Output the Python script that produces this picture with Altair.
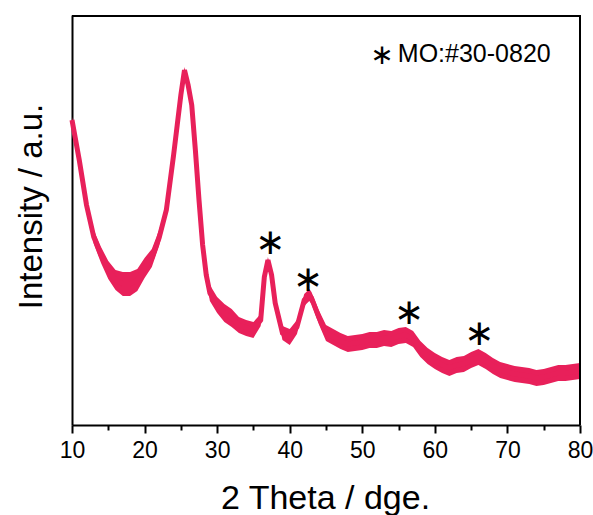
import altair as alt
import pandas as pd

# 2-theta positions (deg) and intensity (a.u.)
two_theta = [10, 11, 12, 13, 14, 15, 16, 17, 18, 19, 20, 21, 22, 23, 24, 24.5, 25, 25.5,
             26, 26.5, 27, 27.5, 28, 28.5, 29, 30, 31, 32, 33, 34, 35, 36, 36.5, 37,
             37.5, 38, 39, 40, 41, 42, 42.7, 43, 44, 45, 46, 47, 48, 49, 50, 51, 52,
             53, 54, 55, 56, 57, 58, 59, 60, 61, 62, 63, 64, 65, 66, 67, 68, 69, 70,
             71, 72, 73, 74, 75, 76, 77, 78, 79, 80]
intensity = [305, 265, 220, 188, 170, 155, 145, 141, 141, 145, 157, 167, 187, 215, 270, 300, 330, 355,
             340, 320, 275, 225, 180, 150, 132, 120, 112, 107, 100, 97, 95, 105, 148, 165,
             150, 122, 92, 88, 98, 125, 130, 127, 108, 92, 88, 84, 81, 82, 83, 85, 85,
             87, 86, 89, 90, 86, 76, 69, 64, 60, 57, 60, 61, 65, 68, 64, 59, 55, 53,
             51, 50, 49, 47, 48, 50, 52, 52, 53, 54]
# half-width of the noise band around the trace (a.u.)
noise = [3, 4, 5, 7, 8, 9, 10, 12, 12, 11, 10, 9, 8, 6, 4, 3, 3, 3,
         3, 3, 3, 3, 4, 6, 8, 8, 9, 9, 8, 8, 8, 6, 3, 3,
         3, 4, 7, 8, 7, 6, 6, 6, 7, 8, 8, 8, 8, 8, 8, 8, 8,
         8, 8, 8, 8, 8, 8, 8, 8, 8, 8, 8, 8, 8, 8, 8, 8, 8, 8,
         8, 8, 8, 8, 8, 8, 8, 8, 8, 8]

# peak markers
star_x = [37.3, 42.5, 56.4, 66.1]
star_y = [182, 145, 112, 91]

major_ticks = [10, 20, 30, 40, 50, 60, 70, 80]
minor_ticks = [15, 25, 35, 45, 55, 65, 75]
x_range = [10, 80]
y_range = [0, 410]

legend_label = ["MO:#30-0820"]

COLOR = "#E8205A"
FONT = "Liberation Sans"

df = pd.DataFrame({"x": two_theta, "y": intensity, "n": noise})
df["lo"] = df["y"] - df["n"]
df["hi"] = df["y"] + df["n"]
stars = pd.DataFrame({"x": star_x, "y": star_y})
leg = pd.DataFrame({"x": [54.9], "y": [363], "t": legend_label})
leg_star = pd.DataFrame({"x": [52.7], "y": [369]})

xscale = alt.Scale(domain=x_range, nice=False, zero=False)
yscale = alt.Scale(domain=y_range, nice=False, zero=False)

xaxis = alt.Axis(
    values=major_ticks, orient="bottom",
    tickSize=8, tickWidth=2, tickColor="black", domainColor="black", domainWidth=2,
    labelFont=FONT, labelFontSize=23, labelColor="black", labelPadding=6,
    labelFlush=False, labelOverlap=False,
    title="2 Theta / dge.", titleFont=FONT, titleFontSize=34, titleFontWeight="normal",
    titleColor="black", titleBaseline="alphabetic", titleY=83, titleX=253,
    grid=False,
)
xaxis_minor = alt.Axis(
    values=minor_ticks, orient="bottom", labels=False, domain=False, grid=False,
    tickSize=5, tickWidth=2, tickColor="black", title=None,
)
yaxis = alt.Axis(
    orient="left", labels=False, ticks=False, domainColor="black", domainWidth=2, grid=False,
    title="Intensity / a.u.", titleFont=FONT, titleFontSize=33, titleFontWeight="normal",
    titleColor="black", titleAngle=-90, titleBaseline="alphabetic", titleAlign="center",
    titleX=-31, titleY=191,
)

X = lambda f: alt.X(f, type="quantitative", scale=xscale, axis=None)
Y = lambda f: alt.Y(f, type="quantitative", scale=yscale, axis=yaxis)

band = alt.Chart(df).mark_area(color=COLOR, opacity=1).encode(
    x=alt.X("x:Q", scale=xscale, axis=xaxis),
    y=Y("lo"),
    y2="hi:Q",
)
line = alt.Chart(df).mark_line(color=COLOR, strokeWidth=5).encode(
    x=alt.X("x:Q", scale=xscale, axis=xaxis_minor),
    y=Y("y"),
)
star_marks = alt.Chart(stars).mark_text(
    text="∗", font="DejaVu Sans", fontSize=36, color="black", baseline="middle", align="center"
).encode(x=X("x"), y=Y("y"))

leg_text = alt.Chart(leg).mark_text(
    font=FONT, fontSize=25, color="black", align="left", baseline="alphabetic"
).encode(x=X("x"), y=Y("y"), text="t:N")
leg_sym = alt.Chart(leg_star).mark_text(
    text="∗", font="DejaVu Sans", fontSize=28, color="black", align="center", baseline="middle"
).encode(x=X("x"), y=Y("y"))

# plot frame: top and right borders (from the plot-area signals)
top_line = alt.Chart(stars).mark_rule(color="black", strokeWidth=2).encode(
    x=alt.value(0), x2=alt.value("width"), y=alt.value(1),
)
right_line = alt.Chart(stars).mark_rule(color="black", strokeWidth=2).encode(
    x=alt.value("width"), y=alt.value(0), y2=alt.value("height"),
)

chart = alt.layer(band, line, star_marks, leg_text, leg_sym, top_line, right_line).resolve_scale(
    x="shared", y="shared"
).resolve_axis(x="independent").properties(
    width=508, height=410,
    padding={"left": 72, "top": 15, "right": 13, "bottom": 90},
    autosize=alt.AutoSizeParams(type="none"),
)

chart.save("out.html", embed_options={"renderer": "svg", "actions": False})
